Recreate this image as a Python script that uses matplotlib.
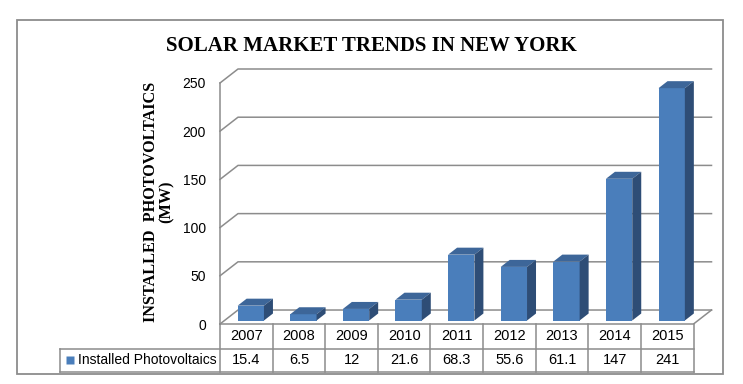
import matplotlib
matplotlib.use("Agg")
import matplotlib.pyplot as plt
from matplotlib.patches import Rectangle

# data
years = ['2007', '2008', '2009', '2010', '2011', '2012', '2013', '2014', '2015']
installed = [15.4, 6.5, 12, 21.6, 68.3, 55.6, 61.1, 147, 241]
value_labels = ['15.4', '6.5', '12', '21.6', '68.3', '55.6', '61.1', '147', '241']
yticks = [0, 50, 100, 150, 200, 250]

# look
W, H = 743, 384
front_col = '#4A7EBB'
top_col = '#3D6699'
side_col = '#2E4D76'
line_col = '#8C8C8C'
dx, dy = 0.342, 14.5          # 3d depth of the walls, in data units
f1, f2 = 0.25, 0.75           # bar front / back depth fraction
bw = 0.5                      # bar width (categories)

fig = plt.figure(figsize=(W / 100, H / 100), dpi=100)
ax = fig.add_axes([220 / W, (H - 324) / H, (711.5 - 220) / W, (324 - 69) / H])
ax.set_xlim(-0.5, 8.5 + dx)
ax.set_ylim(0, 250 + dy)
for s in ax.spines.values():
    s.set_visible(False)
ax.set_xticks([])
ax.set_yticks(yticks)
ax.set_yticklabels([str(t) for t in yticks], family='Liberation Sans', fontsize=10)
ax.tick_params(axis='y', length=0, pad=10)
ax.patch.set_visible(False)

n = len(years)
lw = 1.1
# back wall gridlines + left wall slants
for v in yticks:
    ax.plot([-0.5, -0.5 + dx, n - 0.5 + dx], [v, v + dy, v + dy],
            color=line_col, lw=lw, clip_on=False, zorder=1)
# front axis line
ax.plot([-0.5, -0.5], [0, 250], color=line_col, lw=lw, clip_on=False, zorder=1)
# floor front edge and right slant
ax.plot([-0.5, n - 0.5, n - 0.5 + dx], [0, 0, dy],
        color=line_col, lw=lw, clip_on=False, zorder=1)

# bars
for i, v in enumerate(installed):
    x0 = i - bw / 2
    x1 = i + bw / 2
    # front face
    ax.fill([x0 + f1 * dx, x1 + f1 * dx, x1 + f1 * dx, x0 + f1 * dx],
            [f1 * dy, f1 * dy, v + f1 * dy, v + f1 * dy],
            color=front_col, lw=0, zorder=3, clip_on=False)
    # top
    ax.fill([x0 + f1 * dx, x1 + f1 * dx, x1 + f2 * dx, x0 + f2 * dx],
            [v + f1 * dy, v + f1 * dy, v + f2 * dy, v + f2 * dy],
            color=top_col, lw=0, zorder=3, clip_on=False)
    # side
    ax.fill([x1 + f1 * dx, x1 + f2 * dx, x1 + f2 * dx, x1 + f1 * dx],
            [f1 * dy, f2 * dy, v + f2 * dy, v + f1 * dy],
            color=side_col, lw=0, zorder=3, clip_on=False)

# data table under the chart
row_mid = -25.9
row_bot = -49.8
leg_left = -3.542
ax.plot([-0.5, -0.5], [0, row_bot], color=line_col, lw=lw, clip_on=False)
for i in range(n):
    ax.plot([i + 0.5, i + 0.5], [0, row_bot], color=line_col, lw=lw, clip_on=False)
ax.plot([leg_left, n - 0.5], [row_mid, row_mid], color=line_col, lw=lw, clip_on=False)
ax.plot([leg_left, n - 0.5], [row_bot, row_bot], color=line_col, lw=lw, clip_on=False)
ax.plot([leg_left, leg_left], [row_mid, row_bot], color=line_col, lw=lw, clip_on=False)

tbl_font = ['Liberation Sans Narrow', 'Liberation Sans']
for i in range(n):
    ax.text(i, (0 + row_mid) / 2, years[i], ha='center', va='center',
            family=tbl_font, fontsize=10.5, clip_on=False)
    ax.text(i, (row_mid + row_bot) / 2, value_labels[i], ha='center', va='center',
            family=tbl_font, fontsize=10.5, clip_on=False)

ax.plot([-3.352], [(row_mid + row_bot) / 2], marker='s', ms=6, color=front_col,
        mec='none', clip_on=False)
ax.text(-3.2, (row_mid + row_bot) / 2, 'Installed Photovoltaics', ha='left', va='center',
        family='Liberation Sans', fontsize=10, clip_on=False)

# titles
fig.text(371 / W, (H - 46) / H, 'SOLAR MARKET TRENDS IN NEW YORK', ha='center', va='center',
         family='Liberation Serif', weight='bold', fontsize=15)
fig.text(151 / W, (H - 202) / H, 'INSTALLED  PHOTOVOLTAICS', rotation=90, ha='center',
         va='center', family='Liberation Serif', weight='bold', fontsize=11.7)
fig.text(167 / W, (H - 202) / H, '(MW)', rotation=90, ha='center', va='center',
         family='Liberation Serif', weight='bold', fontsize=11.7)

# outer chart border
fig.patches.append(Rectangle((17 / W, (H - 374) / H), 706 / W, 354 / H, fill=False,
                             edgecolor=line_col, lw=1.3, transform=fig.transFigure))

fig.savefig('out.png', dpi=100)
